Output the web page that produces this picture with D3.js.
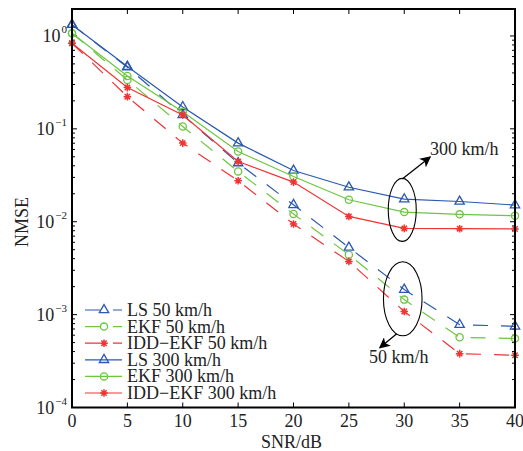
<!DOCTYPE html>
<html>
<head>
<meta charset="utf-8">
<script src="https://cdn.jsdelivr.net/npm/d3@7"></script>
<style>
  body { margin: 0; background: #fff; }
  text { font-family: "Liberation Serif", "Times New Roman", serif; fill: #222; }
</style>
</head>
<body>
<svg width="523" height="451"></svg>
<script>
var snr = [0, 5, 10, 15, 20, 25, 30, 35, 40];

var ls50    = [1.32, 0.46, 0.141, 0.0428, 0.0152, 0.00528, 0.00186, 0.00078, 0.000748];
var ekf50   = [1.07, 0.336, 0.106, 0.0348, 0.0121, 0.00442, 0.00145, 0.00057, 0.000552];
var idd50   = [0.835, 0.222, 0.0702, 0.0276, 0.00945, 0.00374, 0.00108, 0.00038, 0.000365];
var ls300   = [1.32, 0.468, 0.172, 0.0702, 0.0356, 0.0235, 0.0175, 0.0165, 0.0151];
var ekf300  = [1.07, 0.371, 0.153, 0.057, 0.0307, 0.01725, 0.0127, 0.012, 0.0116];
var idd300  = [0.835, 0.278, 0.141, 0.0445, 0.0267, 0.0114, 0.00847, 0.00841, 0.00835];

var xTicks = [0, 5, 10, 15, 20, 25, 30, 35, 40];
var yTicks = [1e-4, 1e-3, 1e-2, 1e-1, 1];

var blue = "#2a58b0", green = "#6cc640", red = "#f03434";

var series = [
    {name: "LS 50 km/h",          v: ls50,   color: blue,  marker: "tri",  dash: true},
    {name: "EKF 50 km/h",         v: ekf50,  color: green, marker: "circ", dash: true},
    {name: "IDD\u2212EKF 50 km/h", v: idd50, color: red,   marker: "star", dash: true},
    {name: "LS 300 km/h",         v: ls300,  color: blue,  marker: "tri",  dash: false},
    {name: "EKF 300 km/h",        v: ekf300, color: green, marker: "circ", dash: false},
    {name: "IDD\u2212EKF 300 km/h", v: idd300, color: red, marker: "star", dash: false}
];

var svg = d3.select("svg");
var pL = 72, pR = 515, pT = 9, pB = 407.5;

var x = d3.scaleLinear().domain([0, 40]).range([pL, pR]);
var y = d3.scaleLog().domain([1e-4, 1.95]).range([pB, pT]);

// ticks (inside, all four sides)
var tk = svg.append("g").attr("stroke", "#000").attr("stroke-width", 1);
xTicks.forEach(function(t) {
    tk.append("line").attr("x1", x(t)).attr("x2", x(t)).attr("y1", pB).attr("y2", pB - 5);
    tk.append("line").attr("x1", x(t)).attr("x2", x(t)).attr("y1", pT).attr("y2", pT + 5);
});
for (var e = -4; e <= 0; e++) {
    for (var m = 1; m <= 9; m++) {
        var v = m * Math.pow(10, e);
        if (v > 1.95) continue;
        var len = m === 1 ? 5 : 3;
        tk.append("line").attr("x1", pL).attr("x2", pL + len).attr("y1", y(v)).attr("y2", y(v));
        tk.append("line").attr("x1", pR).attr("x2", pR - len).attr("y1", y(v)).attr("y2", y(v));
    }
}

// tick labels
svg.append("g").selectAll("text").data(xTicks).enter().append("text")
    .attr("x", function(d) { return x(d); })
    .attr("y", 427)
    .attr("text-anchor", "middle")
    .style("font-size", "18px")
    .text(function(d) { return d; });

var yl = svg.append("g").selectAll("text").data(yTicks).enter().append("text")
    .attr("x", 67)
    .attr("y", function(d) { return y(d) + 6; })
    .attr("text-anchor", "end")
    .style("font-size", "18px");
yl.append("tspan").text("10");
yl.append("tspan").attr("dy", -9).attr("dx", 1).style("font-size", "11px")
    .text(function(d) { var p = Math.round(Math.log10(d)); return p === 0 ? "0" : "\u2212" + (-p); });

svg.append("text").attr("x", (pL + pR) / 2 - 2).attr("y", 448)
    .attr("text-anchor", "middle").style("font-size", "18px").text("SNR/dB");
svg.append("text").attr("transform", "translate(28,222) rotate(-90)")
    .attr("text-anchor", "middle").style("font-size", "18px").text("NMSE");

// lines
var line = d3.line()
    .x(function(d, i) { return x(snr[i]); })
    .y(function(d) { return y(d); });

function drawMarker(g, type, color, cx, cy) {
    if (type === "tri") {
        g.append("path").attr("d", d3.symbol().type(d3.symbolTriangle).size(38)())
            .attr("transform", "translate(" + cx + "," + cy + ")")
            .attr("fill", "none").attr("stroke", color).attr("stroke-width", 1.3);
    } else if (type === "circ") {
        g.append("circle").attr("cx", cx).attr("cy", cy).attr("r", 3.6)
            .attr("fill", "none").attr("stroke", color).attr("stroke-width", 1.3);
    } else {
        var r = 3.8, d = "";
        [0, 45, 90, 135].forEach(function(a) {
            var rad = a * Math.PI / 180;
            d += "M" + (cx - r * Math.cos(rad)) + "," + (cy - r * Math.sin(rad)) +
                 "L" + (cx + r * Math.cos(rad)) + "," + (cy + r * Math.sin(rad));
        });
        g.append("path").attr("d", d).attr("stroke", color).attr("stroke-width", 1.5);
    }
}

var plot = svg.append("g");
series.forEach(function(s) {
    plot.append("path").datum(s.v)
        .attr("d", line)
        .attr("fill", "none")
        .attr("stroke", s.color)
        .attr("stroke-width", 1.2)
        .attr("stroke-dasharray", s.dash ? "15,13" : null);
    s.v.forEach(function(d, i) { drawMarker(plot, s.marker, s.color, x(snr[i]), y(d)); });
});

// box
svg.append("rect").attr("x", pL).attr("y", pT)
    .attr("width", pR - pL).attr("height", pB - pT)
    .attr("fill", "none").attr("stroke", "#000").attr("stroke-width", 2);

// legend
var lg = svg.append("g");
series.forEach(function(s, i) {
    var ly = 310 + i * 16.6;
    lg.append("line").attr("x1", 85).attr("x2", 122).attr("y1", ly).attr("y2", ly)
        .attr("stroke", s.color).attr("stroke-width", 1.2)
        .attr("stroke-dasharray", s.dash ? "15,13" : null);
    drawMarker(lg, s.marker, s.color, 104, ly);
    lg.append("text").attr("x", 127).attr("y", ly + 6).style("font-size", "18px").text(s.name);
});

// annotations
var ann = svg.append("g");
svg.append("defs").append("marker").attr("id", "arr")
    .attr("viewBox", "0 0 10 10").attr("refX", 9).attr("refY", 5)
    .attr("markerWidth", 11).attr("markerHeight", 11).attr("markerUnits", "userSpaceOnUse")
    .attr("orient", "auto")
    .append("path").attr("d", "M0,0L10,5L0,10L2.5,5Z").attr("fill", "#000");

var e1x = x(30) - 2, e1y = y(0.0134);
ann.append("ellipse").attr("cx", e1x).attr("cy", e1y).attr("rx", 14).attr("ry", 31.5)
    .attr("fill", "none").attr("stroke", "#000").attr("stroke-width", 1.1);
ann.append("line").attr("x1", e1x).attr("y1", e1y - 31).attr("x2", e1x + 28).attr("y2", e1y - 53)
    .attr("stroke", "#000").attr("stroke-width", 1.3).attr("marker-end", "url(#arr)");
ann.append("text").attr("x", 430).attr("y", e1y - 55).style("font-size", "18px").text("300 km/h");

var e2x = x(30) - 1.5, e2y = y(0.00148);
ann.append("ellipse").attr("cx", e2x).attr("cy", e2y).attr("rx", 19.3).attr("ry", 37)
    .attr("fill", "none").attr("stroke", "#000").attr("stroke-width", 1.1);
ann.append("line").attr("x1", e2x - 6).attr("y1", e2y + 35).attr("x2", e2x - 23).attr("y2", e2y + 49)
    .attr("stroke", "#000").attr("stroke-width", 1.3).attr("marker-end", "url(#arr)");
ann.append("text").attr("x", 369).attr("y", e2y + 64).style("font-size", "18px").text("50 km/h");
</script>
</body>
</html>
